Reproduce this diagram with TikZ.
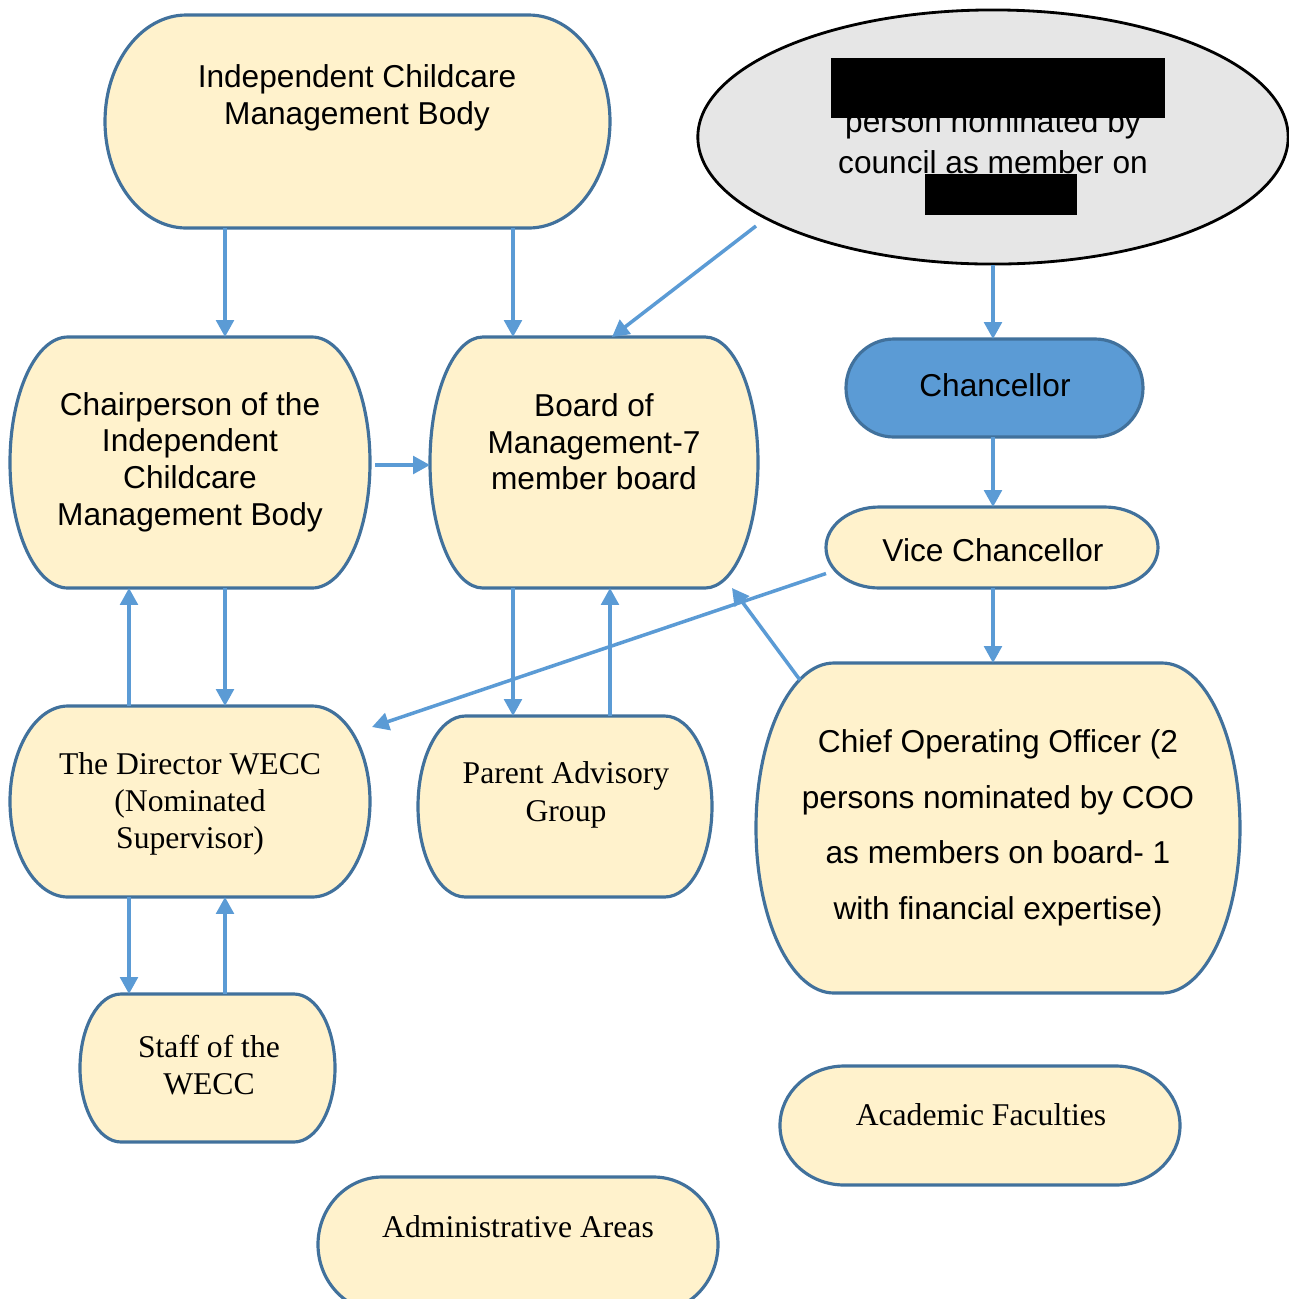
\documentclass[tikz,border=0pt]{standalone}
\usepackage{fontspec}
\setmainfont{Liberation Sans}
\newfontfamily\timesfont{Liberation Serif}
\usetikzlibrary{arrows.meta,calc,fit,shapes.geometric}

\definecolor{cream}{HTML}{FFF2CC}
\definecolor{edge}{HTML}{41719C}
\definecolor{linkblue}{HTML}{5B9BD5}
\definecolor{ovalgray}{HTML}{E6E6E6}

% Terminator outline (elliptical ends) round a fitted node.
\newcommand{\termbox}[2][cream]{%
    \draw[boxline,fill=#1] let \p1=(#2.south west), \p2=(#2.north east),
        \n1={0.161*(\x2-\x1)}, \n2={(\y2-\y1)/2} in
        (\x1+\n1,\y2) -- (\x2-\n1,\y2)
        arc[start angle=90,end angle=-90,x radius=\n1,y radius=\n2]
        -- (\x1+\n1,\y1)
        arc[start angle=270,end angle=90,x radius=\n1,y radius=\n2] -- cycle;}

\begin{document}
\begin{tikzpicture}[x=0.01cm,y=0.01cm,
        box/.style={inner sep=0pt,outer sep=0pt},
        boxline/.style={draw=edge,line width=0.9pt},
        oval/.style={ellipse,draw=black,line width=0.8pt,fill=ovalgray,
            inner sep=0pt,minimum width=5.9cm,minimum height=2.54cm},
        txt/.style={align=center,font=\fontsize{9}{10.4}\selectfont},
        serif/.style={align=center,font=\timesfont\fontsize{9}{10.6}\selectfont},
        link/.style={draw=linkblue,line width=1pt,
            -{Triangle[length=4.8pt,width=5pt]}}]

    \useasboundingbox (0,0) rectangle (1289,-1299);
    \clip (0,0) rectangle (1289,-1299);

    %% Boxes, fitted to the outline of each shape.
    \node[box,fit={(105,-15) (610,-228)}] (icmb) {};
    \node[box,fit={(10,-337) (370,-588)}] (chair) {};
    \node[box,fit={(430,-337) (758,-588)}] (board) {};
    \node[box,fit={(846,-339) (1143,-437)}] (chan) {};
    \node[box,fit={(826,-507) (1158,-588)}] (vc) {};
    \node[box,fit={(756,-663) (1240,-993)}] (coo) {};
    \node[box,fit={(10,-706) (370,-897)}] (dir) {};
    \node[box,fit={(418,-716) (712,-897)}] (pag) {};
    \node[box,fit={(80,-994) (335,-1142)}] (staff) {};
    \node[box,fit={(780,-1066) (1180,-1185)}] (acad) {};
    \node[box,fit={(318,-1177) (718,-1312)}] (admin) {};
    \node[oval] (nom) at (993,-137) {};

    % Outlines.
    \foreach \name in {icmb,chair,board,vc,coo,dir,pag,staff,acad,admin} {
        \termbox{\name}
    }
    \termbox[linkblue]{chan}

    % Texts.
    \node[txt] (icmb-t) at (357,-98) {Independent Childcare\\Management Body};
    \node[txt,font=\fontsize{9}{11.7}\selectfont] (nom-t) at (993,-142)
        {person nominated by\\council as member on};
    \node[txt] (chair-t) at (190,-462)
        {Chairperson of the\\Independent\\Childcare\\Management Body};
    \node[txt] (board-t) at (594,-442) {Board of\\Management-7\\member board};
    \node[txt] (chan-t) at (995,-385) {Chancellor};
    \node[txt] (vc-t) at (993,-550) {Vice Chancellor};
    \node[txt,font=\fontsize{9}{15.8}\selectfont] (coo-t) at (998,-828)
        {Chief Operating Officer (2\\persons nominated by COO\\as members on board- 1\\with financial expertise)};
    \node[serif] (dir-t) at (190,-804) {The Director WECC\\(Nominated\\Supervisor)};
    \node[serif] (pag-t) at (566,-795) {Parent Advisory\\Group};
    \node[serif] (staff-t) at (209,-1065) {Staff of the\\WECC};
    \node[serif] (acad-t) at (981,-1115) {Academic Faculties};
    \node[serif] (admin-t) at (518,-1227) {Administrative Areas};

    % Blacked out parts of the oval.
    \fill[black] (831,-58) rectangle (1165,-118);
    \fill[black] (925,-174) rectangle (1077,-215);

    %% Connectors.
    \draw[link] (icmb.south -| 225,0) -- (chair.north -| 225,0);
    \draw[link] (icmb.south -| 513,0) -- (board.north -| 513,0);
    \draw[link] ($(nom.center)+(-237,-89)$) -- (board.north -| 612,0);
    \draw[link] (nom.south) -- (nom.south |- chan.north);
    \draw[link,shorten <=1.5pt] (chair.east |- 0,-465) -- (board.west |- 0,-465);
    \draw[link] (chan.south -| 993,0) -- (vc.north -| 993,0);
    \draw[link] (vc.south -| 993,0) -- (coo.north -| 993,0);
    \draw[link] (board.south -| 513,0) -- (pag.north -| 513,0);
    \draw[link] (pag.north -| 610,0) -- (board.south -| 610,0);
    \draw[link] (chair.south -| 225,0) -- (dir.north -| 225,0);
    \draw[link] (dir.north -| 129,0) -- (chair.south -| 129,0);
    \draw[link] (dir.south -| 129,0) -- (staff.north -| 129,0);
    \draw[link] (staff.north -| 225,0) -- (dir.south -| 225,0);
    \draw[link] ($(coo.north west)+(44,-17)$) -- ($(board.south east)+(-26,0)$);
    \draw[link] ($(vc.west)+(0,-26)$) -- ($(dir.north east)+(2,-21)$);
\end{tikzpicture}
\end{document}
